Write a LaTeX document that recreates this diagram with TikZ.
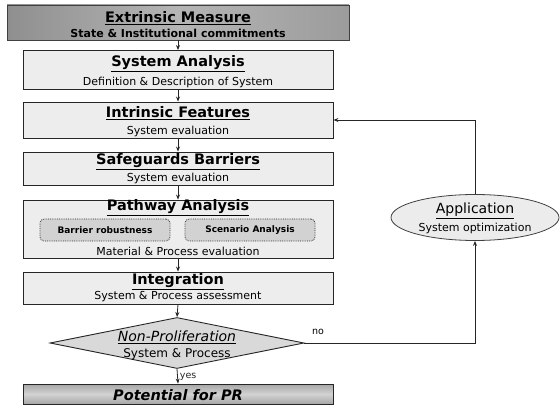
\documentclass[tikz,border=0pt]{standalone}
\usepackage{fontspec}
\setmainfont{DejaVu Sans}
\usetikzlibrary{arrows.meta,shapes.geometric}
\begin{document}
\begin{tikzpicture}[x=1pt,y=-1pt,
  box/.style={draw=black!85,line width=0.9pt,fill=gray!14,minimum width=310,inner sep=0},
  ttl/.style={inner sep=0,font=\fontsize{14.5}{16}\selectfont\bfseries},
  sub/.style={inner sep=0,font=\fontsize{11}{13}\selectfont},
  inbox/.style={draw=black!80,densely dotted,line width=0.8pt,rounded corners=4pt,fill=gray!35,minimum width=130,minimum height=22,inner sep=0,font=\fontsize{9}{11}\selectfont\bfseries},
  arr/.style={-{Stealth[length=5pt,width=4pt]},line width=0.8pt,black!85},
  lbl/.style={inner sep=0,font=\fontsize{9.5}{11}\selectfont}]
\useasboundingbox (0,0) rectangle (560,406);
% boxes
\node[box,draw=black!75,left color=gray!88,right color=gray!78,middle color=gray!58,minimum width=342,minimum height=35] (em) at (178,22.5) {};
\node[box,minimum height=39] (sa) at (178,70) {};
\node[box,minimum height=36] (if) at (178,120) {};
\node[box,minimum height=33] (sg) at (178,168.5) {};
\node[box,minimum height=58] (pa) at (178,229) {};
\node[box,minimum height=32] (ig) at (178,288) {};
\node[draw=black!85,line width=0.9pt,fill=gray!30,diamond,minimum width=254,minimum height=51,inner sep=0] (np) at (177,343) {};
\node[box,top color=gray!70,bottom color=gray!70,middle color=gray!35,minimum height=20] (pot) at (178,394) {};
\node[draw=black!75,line width=0.8pt,fill=gray!15,ellipse,minimum width=168,minimum height=46,inner sep=0] (app) at (475,217.5) {};
% texts
\node[ttl] (emt) at (178,18) {\underline{Extrinsic Measure}};
\node[sub,font=\fontsize{11}{13}\selectfont\bfseries] (ems) at (178,33) {State \& Institutional commitments};
\node[ttl] (sat) at (178,64) {\underline{System Analysis}};
\node[sub] (sas) at (178,82) {Definition \& Description of System};
\node[ttl] (ift) at (178,113) {\underline{Intrinsic Features}};
\node[sub] (ifs) at (178,131) {System evaluation};
\node[ttl] (sgt) at (178,162) {\underline{Safeguards Barriers}};
\node[sub] (sgs) at (178,178) {System evaluation};
\node[ttl] (pat) at (178,208) {\underline{Pathway Analysis}};
\node[inbox] (br) at (105,230) {Barrier robustness};
\node[inbox] (sc) at (250,230) {Scenario Analysis};
\node[sub] (pas) at (178,251) {Material \& Process evaluation};
\node[ttl] (igt) at (178,282) {\underline{Integration}};
\node[sub] (igs) at (178,297) {System \& Process assessment};
\node[inner sep=0,font=\fontsize{14}{16}\selectfont\itshape] (npt) at (177,337) {\underline{Non-Proliferation}};
\node[inner sep=0,font=\fontsize{12}{14}\selectfont] (nps) at (177,354) {System \& Process};
\node[inner sep=0,font=\fontsize{14.5}{16}\selectfont\bfseries\itshape] (pott) at (178,395) {Potential for PR};
\node[inner sep=0,font=\fontsize{14}{16}\selectfont] (appt) at (475,211) {\underline{Application}};
\node[inner sep=0,font=\fontsize{11}{13}\selectfont] (apps) at (475,228) {System optimization};
% connectors
\draw[arr] (em.south) -- (sa.north);
\draw[arr] (sa.south) -- (if.north);
\draw[arr] (if.south) -- (sg.north);
\draw[arr] (sg.south) -- (pa.north);
\draw[arr] (pa.south) -- (ig.north);
\draw[arr] (ig.south) -- (np.north);
\draw[arr] (np.south) -- (pot.north) node[lbl,pos=0.55,anchor=west,xshift=2pt] (yes) {yes};
\draw[arr] (np.east) -| (app.south);
\node[lbl] (no) at (318,332) {no};
\draw[arr] (app.north) |- (if.east);
\end{tikzpicture}
\end{document}
